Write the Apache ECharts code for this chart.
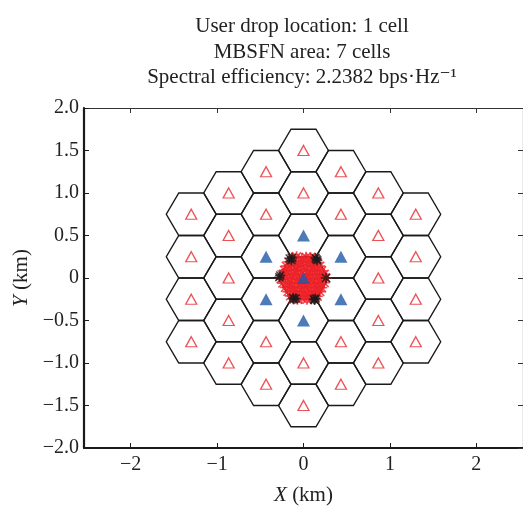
<!DOCTYPE html>
<html>
<head>
<meta charset="utf-8">
<title>MBSFN user drop</title>
<script src="https://cdn.jsdelivr.net/npm/echarts@6/dist/echarts.min.js"></script>
<style>
  html, body { margin: 0; padding: 0; background: #fff; }
  #chart { width: 523px; height: 511px; }
</style>
</head>
<body>
<div id="chart"></div>
<script>
// cell centres (km): the 7 MBSFN cells and the 30 cells around them
var mbsfnCells = [
  [0, 0], [0, 0.5], [0, -0.5],
  [0.433, 0.25], [0.433, -0.25], [-0.433, 0.25], [-0.433, -0.25]
];
var otherCells = [
  [0, 1], [0, -1], [0.866, 0], [-0.866, 0],
  [0.866, 0.5], [0.866, -0.5], [-0.866, 0.5], [-0.866, -0.5],
  [0.433, 0.75], [0.433, -0.75], [-0.433, 0.75], [-0.433, -0.75],
  [0, 1.5], [0, -1.5],
  [0.433, 1.25], [0.433, -1.25], [-0.433, 1.25], [-0.433, -1.25],
  [0.866, 1], [0.866, -1], [-0.866, 1], [-0.866, -1],
  [1.299, 0.75], [1.299, -0.75], [-1.299, 0.75], [-1.299, -0.75],
  [1.299, 0.25], [1.299, -0.25], [-1.299, 0.25], [-1.299, -0.25]
];
var cellRadius = 0.2887;

// user drop positions inside the centre cell
var userDrops = [
  [-0.13, 0.24], [-0.08, 0.25], [-0.02, 0.23], [0.03, 0.245], [0.08, 0.24], [0.13, 0.235],
  [-0.17, 0.19], [-0.11, 0.2], [-0.06, 0.185], [0.0, 0.2], [0.05, 0.19], [0.11, 0.195], [0.16, 0.185],
  [-0.2, 0.14], [-0.14, 0.15], [-0.09, 0.135], [-0.03, 0.145], [0.02, 0.14], [0.08, 0.15], [0.13, 0.135], [0.19, 0.14],
  [-0.22, 0.09], [-0.17, 0.095], [-0.11, 0.085], [-0.06, 0.1], [0.0, 0.09], [0.05, 0.08], [0.1, 0.095], [0.16, 0.09], [0.21, 0.085],
  [-0.25, 0.04], [-0.19, 0.045], [-0.14, 0.035], [-0.08, 0.05], [-0.03, 0.04], [0.03, 0.03], [0.08, 0.045], [0.13, 0.04], [0.19, 0.035], [0.24, 0.045],
  [-0.26, -0.01], [-0.21, 0.0], [-0.16, -0.015], [-0.1, -0.005], [-0.05, -0.02], [0.01, -0.01], [0.06, 0.0], [0.11, -0.015], [0.17, -0.005], [0.22, -0.01], [0.26, 0.0],
  [-0.24, -0.06], [-0.18, -0.055], [-0.13, -0.065], [-0.07, -0.05], [-0.02, -0.06], [0.04, -0.07], [0.09, -0.055], [0.15, -0.06], [0.2, -0.065], [0.24, -0.055],
  [-0.21, -0.11], [-0.16, -0.105], [-0.1, -0.12], [-0.05, -0.11], [0.01, -0.1], [0.06, -0.115], [0.12, -0.11], [0.17, -0.105], [0.21, -0.115],
  [-0.18, -0.16], [-0.13, -0.155], [-0.07, -0.165], [-0.02, -0.15], [0.03, -0.16], [0.09, -0.17], [0.14, -0.155], [0.19, -0.16],
  [-0.15, -0.21], [-0.1, -0.2], [-0.04, -0.215], [0.01, -0.205], [0.06, -0.21], [0.11, -0.2], [0.16, -0.215],
  [-0.12, -0.245], [-0.07, -0.25], [-0.02, -0.24], [0.04, -0.25], [0.09, -0.245], [0.13, -0.24]
];
// drops that landed on the cell corners
var cornerDrops = [
  [-0.16, 0.23], [-0.14, 0.21], [-0.135, 0.235],
  [0.15, 0.22], [0.14, 0.235], [0.16, 0.21],
  [-0.28, 0.01], [-0.27, 0.03],
  [-0.11, -0.25], [-0.09, -0.24], [-0.12, -0.235],
  [0.12, -0.25], [0.14, -0.24], [0.13, -0.26],
  [0.26, 0.0]
];

var xTicks = [-2, -1, 0, 1, 2];
var titleLines = [
  'User drop location: 1 cell',
  'MBSFN area: 7 cells',
  'Spectral efficiency: 2.2382 bps\u00b7Hz\u207b\u00b9'
];

var serif = '"Liberation Serif", "DejaVu Serif", serif';
var asterisk = 'path://M0,8.5L20,8.5L20,11.5L0,11.5Z M8.5,0L11.5,0L11.5,20L8.5,20Z ' +
  'M1,3.1L3.1,1L19,16.9L16.9,19Z M16.9,1L19,3.1L3.1,19L1,16.9Z';

function minus(v) {
  return String(v).replace('-', '\u2212');
}

var myChart = echarts.init(document.getElementById('chart'));

function drawHex(params, api) {
  var cx = api.value(0);
  var cy = api.value(1);
  var pts = [];
  for (var k = 0; k < 6; k++) {
    var a = Math.PI / 3 * k;
    pts.push(api.coord([cx + cellRadius * Math.cos(a), cy + cellRadius * Math.sin(a)]));
  }
  return {
    type: 'polygon',
    shape: { points: pts },
    style: { fill: 'none', stroke: '#1a1a1a', lineWidth: 1.4 }
  };
}

var option = {
  animation: false,
  title: {
    text: titleLines.join('\n'),
    left: 297,
    top: 9,
    textAlign: 'center',
    textStyle: {
      fontFamily: serif,
      fontSize: 21,
      fontWeight: 'normal',
      color: '#222',
      lineHeight: 25.5
    }
  },
  grid: {
    left: 84,
    top: 108,
    width: 440,
    height: 346
  },
  xAxis: [
    {
      type: 'value',
      min: -2.54,
      max: 2.54,
      position: 'bottom',
      name: '{i|X} (km)',
      nameLocation: 'middle',
      nameGap: 37,
      nameTextStyle: {
        fontFamily: serif, fontSize: 21, color: '#222',
        rich: { i: { fontFamily: serif, fontSize: 21, fontStyle: 'italic', color: '#222' } }
      },
      axisLine: { onZero: false, lineStyle: { color: '#1a1a1a', width: 2.2 } },
      axisTick: { inside: true, length: 5, customValues: xTicks, lineStyle: { color: '#1a1a1a' } },
      axisLabel: {
        customValues: xTicks, margin: 7,
        fontFamily: serif, fontSize: 20, color: '#222',
        formatter: function (v) { return minus(v); }
      },
      splitLine: { show: false }
    },
    {
      type: 'value',
      min: -2.54,
      max: 2.54,
      position: 'top',
      axisLine: { onZero: false, lineStyle: { color: '#333', width: 1.2 } },
      axisTick: { inside: true, length: 5, customValues: xTicks, lineStyle: { color: '#333' } },
      axisLabel: { show: false },
      splitLine: { show: false }
    }
  ],
  yAxis: [
    {
      type: 'value',
      min: -2,
      max: 2,
      interval: 0.5,
      position: 'left',
      name: '{i|Y} (km)',
      nameLocation: 'middle',
      nameGap: 51,
      nameTextStyle: {
        fontFamily: serif, fontSize: 21, color: '#222',
        rich: { i: { fontFamily: serif, fontSize: 21, fontStyle: 'italic', color: '#222' } }
      },
      axisLine: { onZero: false, lineStyle: { color: '#1a1a1a', width: 2.2 } },
      axisTick: { inside: true, length: 5, lineStyle: { color: '#1a1a1a' } },
      axisLabel: {
        margin: 5,
        fontFamily: serif, fontSize: 20, color: '#222',
        formatter: function (v) { return v === 0 ? '0' : minus(v.toFixed(1)); }
      },
      splitLine: { show: false }
    },
    {
      type: 'value',
      min: -2,
      max: 2,
      interval: 0.5,
      position: 'right',
      axisLine: { onZero: false, lineStyle: { color: '#333', width: 1.2 } },
      axisTick: { inside: true, length: 5, lineStyle: { color: '#333' } },
      axisLabel: { show: false },
      splitLine: { show: false }
    }
  ],
  series: [
    {
      name: 'cells',
      type: 'custom',
      renderItem: drawHex,
      data: mbsfnCells.concat(otherCells),
      encode: { x: 0, y: 1 },
      silent: true,
      z: 1
    },
    {
      name: 'other cells',
      type: 'scatter',
      data: otherCells,
      symbol: 'triangle',
      symbolSize: [11, 10],
      itemStyle: { color: 'rgba(255,255,255,0)', borderColor: '#e8262a', borderWidth: 1.3 },
      z: 2
    },
    {
      name: 'user drops',
      type: 'scatter',
      data: userDrops,
      symbol: asterisk,
      symbolSize: 11,
      itemStyle: { color: '#ec2228' },
      z: 3
    },
    {
      name: 'corner drops',
      type: 'scatter',
      data: cornerDrops,
      symbol: asterisk,
      symbolSize: 10,
      itemStyle: { color: '#1a1a1a' },
      z: 4
    },
    {
      name: 'MBSFN cells',
      type: 'scatter',
      data: mbsfnCells,
      symbol: 'triangle',
      symbolSize: [13, 12],
      itemStyle: { color: '#2159a8' },
      z: 5
    }
  ]
};

myChart.setOption(option);
</script>
</body>
</html>
